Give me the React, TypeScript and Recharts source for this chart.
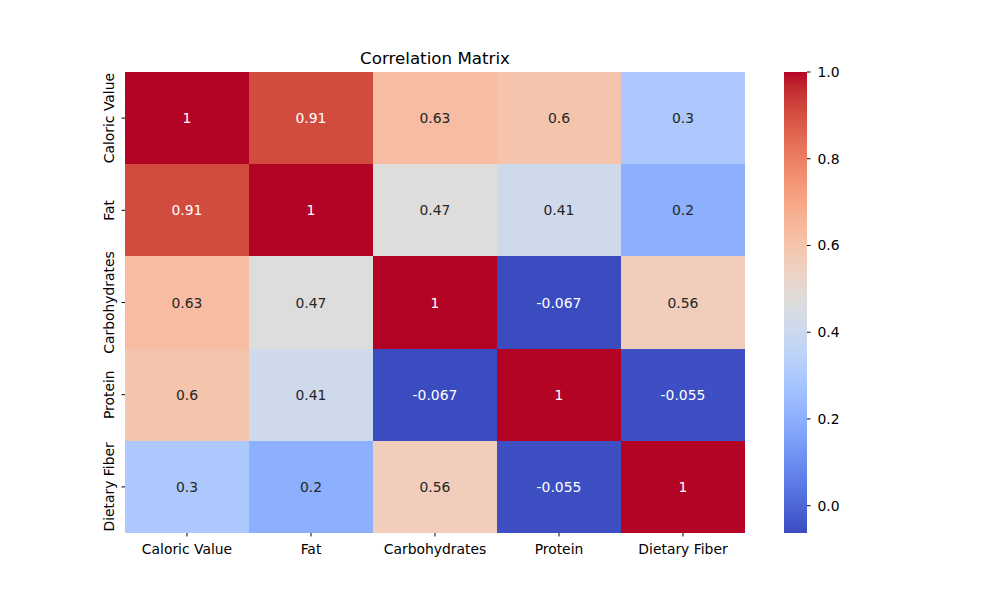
import React from "react";
import { BarChart, Bar, XAxis, YAxis } from "recharts";

const labels = ["Caloric Value", "Fat", "Carbohydrates", "Protein", "Dietary Fiber"];

// rows top to bottom, columns left to right
const caloricRow = [1, 0.91, 0.63, 0.6, 0.3];
const fatRow = [0.91, 1, 0.47, 0.41, 0.2];
const carbRow = [0.63, 0.47, 1, -0.067, 0.56];
const proteinRow = [0.6, 0.41, -0.067, 1, -0.055];
const fiberRow = [0.3, 0.2, 0.56, -0.055, 1];
const matrix = [caloricRow, fatRow, carbRow, proteinRow, fiberRow];

const colorbarTicks = [0, 0.2, 0.4, 0.6, 0.8, 1.0];
// colour scale ends
const vmin = -0.063;
const vmax = 1.0;

// coolwarm (Moreland), 33 samples
const coolwarm: number[][] = [
  [59, 76, 192], [68, 90, 204], [77, 104, 215], [87, 117, 225], [98, 130, 234],
  [108, 142, 241], [119, 154, 247], [130, 165, 251], [141, 176, 254], [152, 185, 255],
  [163, 194, 255], [174, 201, 253], [184, 208, 249], [194, 213, 244], [204, 217, 238],
  [213, 219, 230], [221, 221, 221], [229, 216, 209], [236, 211, 197], [241, 204, 184],
  [245, 196, 172], [247, 187, 159], [247, 177, 147], [247, 166, 134], [244, 154, 123],
  [241, 141, 111], [236, 127, 99], [229, 112, 88], [222, 96, 77], [213, 80, 66],
  [203, 62, 56], [192, 40, 47], [180, 4, 38],
];

const cmap = (t: number): number[] => {
  const s = Math.max(0, Math.min(1, t)) * (coolwarm.length - 1);
  const i = Math.min(Math.floor(s), coolwarm.length - 2);
  const f = s - i;
  return coolwarm[i].map((c, k) => c + (coolwarm[i + 1][k] - c) * f);
};
const rgb = (c: number[]) => `rgb(${c.map((v) => Math.round(v)).join(",")})`;
const lum = (c: number[]) => {
  const lin = c.map((v) => {
    const x = v / 255;
    return x <= 0.03928 ? x / 12.92 : Math.pow((x + 0.055) / 1.055, 2.4);
  });
  return 0.2126 * lin[0] + 0.7152 * lin[1] + 0.0722 * lin[2];
};

const font = "DejaVu Sans, sans-serif";

// one entry per column, one unit-high stacked segment per row
const data = labels.map((col) => ({
  col,
  u0: 1, u1: 1, u2: 1, u3: 1, u4: 1,
}));

const fmt = (v: number) => String(Number(v.toPrecision(2)));

const cellShape = (row: number) => (p: any) => {
  const v = matrix[row][p.index];
  const c = cmap((v - vmin) / (vmax - vmin));
  const textColor = lum(c) > 0.408 ? "#262626" : "#ffffff";
  return (
    <g>
      <rect x={p.x} y={p.y} width={p.width} height={p.height} fill={rgb(c)} shapeRendering="crispEdges" />
      <text
        x={p.x + p.width / 2}
        y={p.y + p.height / 2}
        dy="0.36em"
        textAnchor="middle"
        fontSize={13.9}
        fontFamily={font}
        fill={textColor}
      >
        {fmt(v)}
      </text>
    </g>
  );
};

const YTick = (props: any) => {
  const { x, y, payload } = props;
  const name = labels[4 - Math.floor(payload.value)];
  return (
    <text
      x={0}
      y={0}
      dy="0.36em"
      textAnchor="middle"
      fontSize={13.9}
      fontFamily={font}
      fill="#000"
      transform={`translate(${x - 11}, ${y}) rotate(-90)`}
    >
      {name}
    </text>
  );
};

// top of the bar is the high end of the map
const gradientStops = coolwarm
  .map((c, i) => ({ offset: 100 - (i / (coolwarm.length - 1)) * 100, color: rgb(c) }))
  .reverse();

const App = () => {
  return (
    <div style={{ position: "absolute", left: 0, top: 0, width: 1000, height: 600, background: "#fff" }}>
      <BarChart
        width={1000}
        height={600}
        data={data}
        margin={{ top: 72, right: 255, bottom: 37, left: 0 }}
        barCategoryGap={0}
        barGap={0}
      >
        <XAxis
          dataKey="col"
          height={30}
          axisLine={false}
          tickSize={3.5}
          tickMargin={8}
          tickLine={{ stroke: "#000" }}
          tick={{ fontSize: 13.9, fontFamily: font, fill: "#000" }}
          interval={0}
        />
        <YAxis
          type="number"
          domain={[0, 5]}
          ticks={[0.5, 1.5, 2.5, 3.5, 4.5]}
          width={125}
          axisLine={false}
          tickSize={3.5}
          tickLine={{ stroke: "#000" }}
          tick={<YTick />}
          interval={0}
        />
        {[4, 3, 2, 1, 0].map((r) => (
          <Bar
            key={r}
            dataKey={`u${r}`}
            stackId="m"
            isAnimationActive={false}
            shape={cellShape(r)}
          />
        ))}
      </BarChart>

      <div style={{ position: "absolute", left: 784, top: 0 }}>
        <BarChart
          width={93}
          height={600}
          data={[{ name: "cb", range: [vmin, vmax] }]}
          margin={{ top: 72, right: 0, bottom: 67, left: 0 }}
          barCategoryGap={0}
        >
          <defs>
            <linearGradient id="cw" x1="0" y1="0" x2="0" y2="1">
              {gradientStops.map((s, i) => (
                <stop key={i} offset={`${s.offset}%`} stopColor={s.color} />
              ))}
            </linearGradient>
          </defs>
          <XAxis dataKey="name" hide />
          <YAxis
            orientation="right"
            type="number"
            domain={[vmin, vmax]}
            allowDataOverflow
            ticks={colorbarTicks}
            width={70}
            axisLine={false}
            tickSize={3.5}
            tickMargin={7}
            tickLine={{ stroke: "#000" }}
            tickFormatter={(v: number) => v.toFixed(1)}
            tick={{ fontSize: 13.9, fontFamily: font, fill: "#000" }}
          />
          <Bar dataKey="range" fill="url(#cw)" isAnimationActive={false} />
        </BarChart>
      </div>

      <svg width={1000} height={600} style={{ position: "absolute", left: 0, top: 0, pointerEvents: "none" }}>
        <text x={435} y={64} textAnchor="middle" fontSize={16.7} fontFamily={font} fill="#000">
          Correlation Matrix
        </text>
      </svg>
    </div>
  );
};

export default App;
